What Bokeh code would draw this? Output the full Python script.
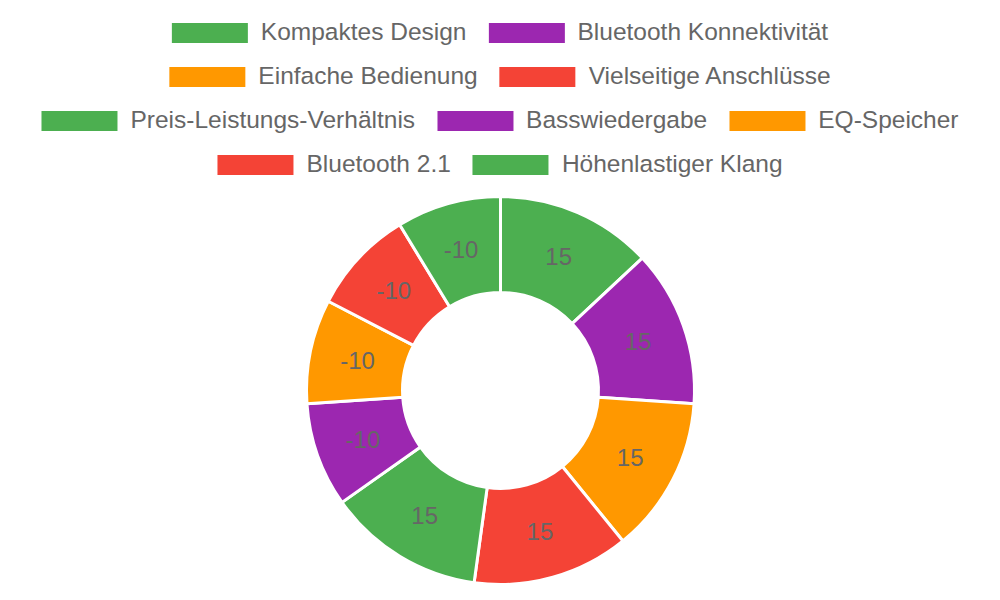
import math
from bokeh.plotting import figure
from bokeh.models import ColumnDataSource, Range1d, Legend, LegendItem
from bokeh.core.properties import value
from bokeh.embed import file_html
from bokeh.resources import INLINE

labels = ["Kompaktes Design", "Bluetooth Konnektivität", "Einfache Bedienung",
          "Vielseitige Anschlüsse", "Preis-Leistungs-Verhältnis", "Basswiedergabe",
          "EQ-Speicher", "Bluetooth 2.1", "Höhenlastiger Klang"]
values = [15, 15, 15, 15, 15, -10, -10, -10, -10]
colors = ["#4CAF50", "#9C27B0", "#FF9800", "#F44336", "#4CAF50", "#9C27B0",
          "#FF9800", "#F44336", "#4CAF50"]
legend_rows = [2, 2, 3, 2]

W, H = 984, 584
FONT = "Liberation Sans"
TXT = "#666666"

# legend glyph area is inset by 10% on each side when drawn
BOX_W, BOX_H = 76, 20
GW, GH = BOX_W / 0.8, BOX_H / 0.8
INSET = (GW - BOX_W) / 2
LEFT = int(round(16 - 2 * INSET / 2 * 1.0))  # keep legend rows centred on x=500

CX, CY = 500, H - 390
R_OUT, R_IN = 194, 98

total = sum(abs(v) for v in values)
starts, ends, lx, ly = [], [], [], []
cum = 0.0
for v in values:
    a0 = math.pi / 2 - 2 * math.pi * cum / total
    cum += abs(v)
    a1 = math.pi / 2 - 2 * math.pi * cum / total
    starts.append(a1)
    ends.append(a0)
    mid = (a0 + a1) / 2
    rm = (R_OUT + R_IN) / 2
    lx.append(CX + rm * math.cos(mid))
    ly.append(CY + rm * math.sin(mid))

src = ColumnDataSource(dict(label=labels, val=[str(v) for v in values], color=colors,
                            start=starts, end=ends, lx=lx, ly=ly,
                            cx=[CX] * len(values), cy=[CY] * len(values)))

p = figure(width=W, height=H, output_backend="svg", toolbar_location=None,
           x_range=Range1d(LEFT, W), y_range=Range1d(0, H), min_border=0,
           min_border_left=LEFT)
p.axis.visible = False
p.grid.visible = False
p.outline_line_color = None

p.annular_wedge(x="cx", y="cy", inner_radius=R_IN, outer_radius=R_OUT,
                start_angle="start", end_angle="end", fill_color="color",
                line_color="white", line_width=3, source=src)
p.text(x="lx", y="ly", text="val", source=src, text_align="center",
       text_baseline="middle", text_font=value(FONT), text_font_size="24px",
       text_color=TXT)

leg_r = p.rect(x="cx", y="cy", width=0, height=0, fill_color="color",
               line_color=None, source=src)

row_centers = [32, 76, 120, 164]
idx = 0
for r, n in enumerate(legend_rows):
    items = [LegendItem(label=labels[i], renderers=[leg_r], index=i)
             for i in range(idx, idx + n)]
    idx += n
    leg = Legend(items=items, orientation="horizontal", location="top_center",
                 glyph_width=int(round(GW)), glyph_height=int(round(GH)),
                 label_standoff=int(round(14 - INSET)), spacing=int(round(22 - INSET)),
                 padding=0, margin=row_centers[r] - 14,
                 label_text_font=FONT, label_text_font_size="24.5px",
                 label_text_color=TXT, border_line_color=None,
                 background_fill_alpha=0)
    p.add_layout(leg, "center")

open("out.html", "w").write(file_html(p, INLINE))
